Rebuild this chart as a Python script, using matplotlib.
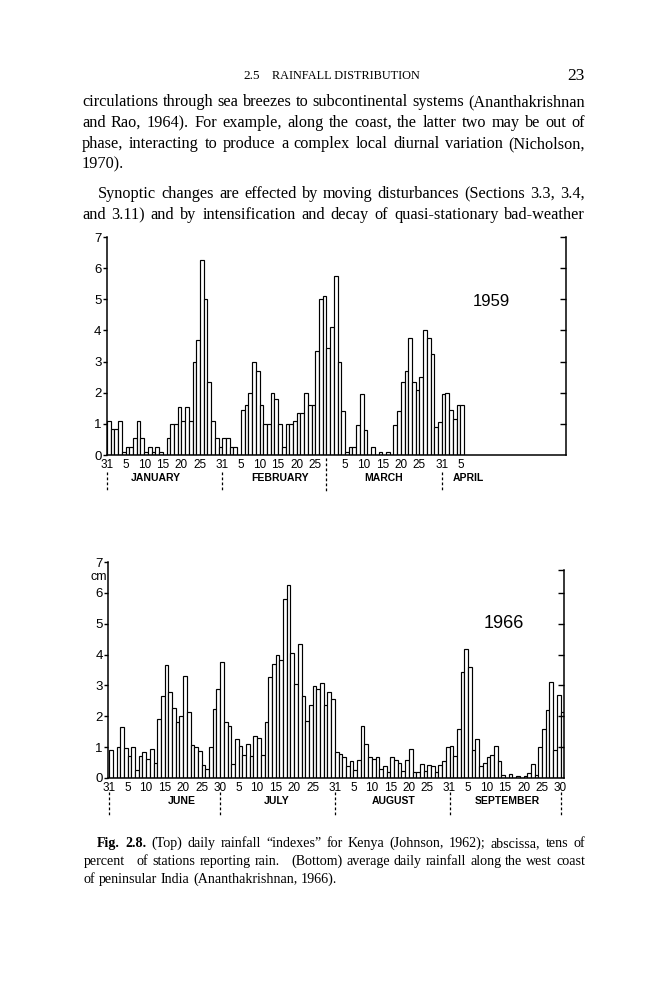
"""
Page 23 of a climatology text: daily rainfall indexes for Kenya (1959)
and daily rainfall along the west coast of India (1966).
"""
import re
import matplotlib
matplotlib.use("Agg")
import matplotlib.pyplot as plt
from matplotlib.transforms import blended_transform_factory

W, H = 666, 1000
SERIF = ["Liberation Serif", "DejaVu Serif"]
SANS = ["Liberation Sans", "DejaVu Sans"]
NARROW = ["Liberation Sans Narrow", "Liberation Sans", "DejaVu Sans"]

# ---- data: Kenya 1959, one bar per day, 31 Dec .. 5 Apr ----
kenya_dec = [1.1]
kenya_jan = [0.85, 0.85, 1.1, 0.1, 0.25, 0.25, 0.55, 1.1, 0.55, 0.1,
             0.25, 0.1, 0.25, 0.1, 0.0, 0.55, 1.0, 1.0, 1.55, 1.1,
             1.55, 1.1, 3.0, 3.7, 6.25, 5.0, 2.35, 1.1, 0.55, 0.25, 0.55]
kenya_feb = [0.55, 0.25, 0.25, 0.0, 1.45, 1.6, 2.0, 3.0, 2.7, 1.6,
             1.0, 1.0, 2.0, 1.8, 1.0, 0.25, 1.0, 1.0, 1.1, 1.35,
             1.35, 2.0, 1.6, 1.6, 3.35, 5.0, 5.1, 3.45]
kenya_mar = [4.1, 5.75, 3.0, 1.4, 0.1, 0.25, 0.25, 0.95, 1.95, 0.8,
             0.0, 0.25, 0.0, 0.1, 0.0, 0.1, 0.0, 0.95, 1.4, 2.35,
             2.7, 3.75, 2.35, 2.1, 2.5, 4.0, 3.75, 3.25, 0.9, 1.05, 1.95]
kenya_apr = [2.0, 1.45, 1.15, 1.6, 1.6]
kenya_offset = {"dec": -31, "jan": 0, "feb": 31, "mar": 59, "apr": 90}
kenya_ticks = [("dec", 31), ("jan", 5), ("jan", 10), ("jan", 15), ("jan", 20),
               ("jan", 25), ("jan", 31), ("feb", 5), ("feb", 10), ("feb", 15),
               ("feb", 20), ("feb", 25), ("mar", 5), ("mar", 10), ("mar", 15),
               ("mar", 20), ("mar", 25), ("mar", 31), ("apr", 5)]
kenya_month_ends = [("dec", 31), ("jan", 31), ("feb", 28), ("mar", 31)]
kenya_months = ["JANUARY", "FEBRUARY", "MARCH", "APRIL"]

# ---- data: west coast of India 1966, cm per day, 31 May .. 30 Sep ----
india_may = [0.9]
india_jun = [0.0, 1.0, 1.65, 0.97, 0.7, 1.0, 0.25, 0.7, 0.83, 0.6,
             0.95, 0.5, 1.9, 2.65, 3.65, 2.8, 2.28, 1.8, 2.0, 3.3,
             2.13, 1.07, 1.0, 0.86, 0.41, 0.3, 1.0, 2.22, 2.87, 3.76]
india_jul = [1.8, 1.67, 0.45, 1.26, 1.05, 0.73, 1.1, 0.7, 1.37, 1.29,
             0.73, 1.8, 3.26, 3.7, 3.98, 3.82, 5.8, 6.24, 4.06, 3.06,
             4.35, 2.67, 1.86, 2.37, 2.98, 2.9, 3.09, 2.37, 2.8, 2.55, 0.84]
india_aug = [0.79, 0.68, 0.38, 0.56, 0.27, 0.57, 1.67, 1.1, 0.68, 0.62,
             0.68, 0.3, 0.4, 0.2, 0.68, 0.57, 0.48, 0.24, 0.57, 0.95,
             0.2, 0.2, 0.46, 0.22, 0.41, 0.38, 0.2, 0.41, 0.54, 0.99, 1.05]
india_sep = [0.72, 1.58, 3.44, 4.17, 3.6, 0.91, 1.26, 0.4, 0.48, 0.68,
             0.73, 1.04, 0.56, 0.1, 0.0, 0.13, 0.0, 0.08, 0.0, 0.08,
             0.16, 0.45, 0.1, 1.0, 1.6, 2.2, 3.12, 0.91, 2.7, 2.13]
india_offset = {"may": -31, "jun": 0, "jul": 30, "aug": 61, "sep": 92}
india_ticks = [("may", 31), ("jun", 5), ("jun", 10), ("jun", 15), ("jun", 20),
               ("jun", 25), ("jun", 30), ("jul", 5), ("jul", 10), ("jul", 15),
               ("jul", 20), ("jul", 25), ("jul", 31), ("aug", 5), ("aug", 10),
               ("aug", 15), ("aug", 20), ("aug", 25), ("aug", 31), ("sep", 5),
               ("sep", 10), ("sep", 15), ("sep", 20), ("sep", 25), ("sep", 30)]
india_month_ends = [("may", 31), ("jun", 30), ("jul", 31), ("aug", 31), ("sep", 30)]
india_months = ["JUNE", "JULY", "AUGUST", "SEPTEMBER"]

# ---- page text ----
header_num = "2.5"
header_title = "RAINFALL DISTRIBUTION"
page_number = "23"
body_lines = [
    "circulations through sea breezes to subcontinental systems (Ananthakrishnan",
    "and Rao, 1964). For example, along the coast, the latter two may be out of",
    "phase, interacting to produce a complex local diurnal variation (Nicholson,",
    "1970).",
    "Synoptic changes are effected by moving disturbances (Sections 3.3, 3.4,",
    "and 3.11) and by intensification and decay of quasi-stationary bad-weather",
]
caption_lines = [
    "Fig. 2.8. (Top) daily rainfall \u201cindexes\u201d for Kenya (Johnson, 1962); abscissa, tens of",
    "percent   of stations reporting rain.   (Bottom) average daily rainfall along the west coast",
    "of peninsular India (Ananthakrishnan, 1966).",
]

fig = plt.figure(figsize=(W / 100, H / 100), dpi=100)
fig.patch.set_facecolor("white")
renderer = fig.canvas.get_renderer()


def fx(px):
    return px / W


def fy(py):
    return 1 - py / H


def measure(s, size, weight="normal", family=SERIF):
    t = fig.text(0, 0, s, fontsize=size, fontweight=weight, family=family)
    w = t.get_window_extent(renderer=renderer).width
    t.remove()
    return w


def put_line(text, x0, x1, y, size, justify=True, bold_words=0):
    """Set one line of type word by word; runs of spaces weight the gaps."""
    parts = re.split(r"( +)", text.strip())
    words = parts[0::2]
    gap_w = [len(s) for s in parts[1::2]]
    weights = ["bold" if i < bold_words else "normal" for i in range(len(words))]
    widths = [measure(w, size, wt) for w, wt in zip(words, weights)]
    space = measure("a a", size) - measure("aa", size)
    if justify and gap_w:
        unit = max((x1 - x0 - sum(widths)) / sum(gap_w), 0.6 * space)
    else:
        unit = space
    x = x0
    for i, (w, wt, wd) in enumerate(zip(words, weights, widths)):
        fig.text(fx(x), fy(y), w, fontsize=size, fontweight=wt, family=SERIF,
                 ha="left", va="baseline")
        if i < len(gap_w):
            x += wd + unit * gap_w[i]


# running head
fig.text(fx(243), fy(79), header_num, fontsize=9.5, family=SERIF, va="baseline")
cap_size = 8.0 * 148 / measure(header_title, 8.0)
fig.text(fx(272), fy(79), header_title, fontsize=cap_size, family=SERIF, va="baseline")
fig.text(fx(585), fy(80), page_number, fontsize=12.5, family=SERIF, ha="right", va="baseline")

# body text
body_y = [106, 127, 148, 168, 198, 219]
body_x0 = [82, 82, 82, 82, 98, 82]
for line, y, x0 in zip(body_lines, body_y, body_x0):
    put_line(line, x0, 585, y, 11.7, justify=(line != "1970)."))

# caption
cap_y = [847, 865, 883]
cap_x0 = [97, 84, 84]
for k, (line, y, x0) in enumerate(zip(caption_lines, cap_y, cap_x0)):
    put_line(line, x0, 585, y, 10.1, justify=(k < 2), bold_words=2 if k == 0 else 0)


def draw_panel(rect, xlim, values, offsets, ticks, month_ends, long_dash,
               months, month_pos, month_y, dash_y, right_top, right_ticks):
    l, t, r, b = rect
    ax = fig.add_axes([fx(l), fy(b), (r - l) / W, (b - t) / H])
    ax.bar(range(len(values)), values, width=1.0, color="white",
           edgecolor="black", linewidth=0.85)
    ax.set_xlim(*xlim)
    ax.set_ylim(0, 7)
    ax.set_yticks(range(8))
    ax.set_yticklabels([str(v) for v in range(8)], family=SANS, fontsize=9.5)
    ax.tick_params(axis="y", direction="out", length=3, width=1.0, pad=1)
    # day labels sit on the left edge of each day's bar
    pos = [offsets[m] + d - 0.5 for m, d in ticks]
    ax.set_xticks(pos)
    ax.set_xticklabels([str(d) for m, d in ticks], family=SANS, fontsize=8.5)
    ax.tick_params(axis="x", length=0, pad=3)
    ax.spines["top"].set_visible(False)
    ax.spines["right"].set_visible(False)
    ax.spines["left"].set_linewidth(1.1)
    ax.spines["bottom"].set_linewidth(1.1)

    tw = ax.twinx()
    tw.set_ylim(0, 7)
    tw.set_yticks(right_ticks)
    tw.tick_params(axis="y", direction="in", length=4, width=1.0, labelright=False)
    for s in ("left", "top", "bottom"):
        tw.spines[s].set_visible(False)
    tw.spines["right"].set_linewidth(1.1)
    tw.spines["right"].set_bounds(0, right_top)

    trans = blended_transform_factory(ax.transData, fig.transFigure)
    for m, d in month_ends:
        p = offsets[m] + d - 0.5
        y0 = long_dash if (m, d) == month_ends[2] and long_dash else dash_y[0]
        ax.plot([p, p], [fy(y0), fy(dash_y[1])], transform=trans, color="black",
                lw=0.9, ls=(0, (2.2, 1.8)), clip_on=False)
    for name, p in zip(months, month_pos):
        ax.text(p, fy(month_y), name, transform=trans, ha="center", va="center",
                family=SANS, fontsize=7.5, fontweight="bold")
    return ax


kenya = kenya_dec + kenya_jan + kenya_feb + kenya_mar + kenya_apr
india = india_may + india_jun + india_jul + india_aug + india_sep

draw_panel((107, 237, 566, 455), (-0.45, 122.9), kenya, kenya_offset,
           kenya_ticks, kenya_month_ends, 458, kenya_months,
           [12.7, 46.1, 74.0, 96.6], 478, (472, 491), 7, range(1, 8))
fig.text(fx(491), fy(302), "1959", family=NARROW, fontsize=12, ha="center", va="center")

draw_panel((108.3, 562, 564, 778), (-0.73, 122.43), india, india_offset,
           india_ticks, india_month_ends, None, india_months,
           [19.2, 44.9, 76.5, 107.0], 801, (792, 815), 6.75,
           [1, 2, 3, 4, 5, 6, 6.75])
fig.text(fx(504), fy(623), "1966", family=NARROW, fontsize=13, ha="center", va="center")
fig.text(fx(99), fy(577), "cm", family=SANS, fontsize=9, ha="center", va="center")

fig.savefig("out.png", dpi=100, facecolor="white")
